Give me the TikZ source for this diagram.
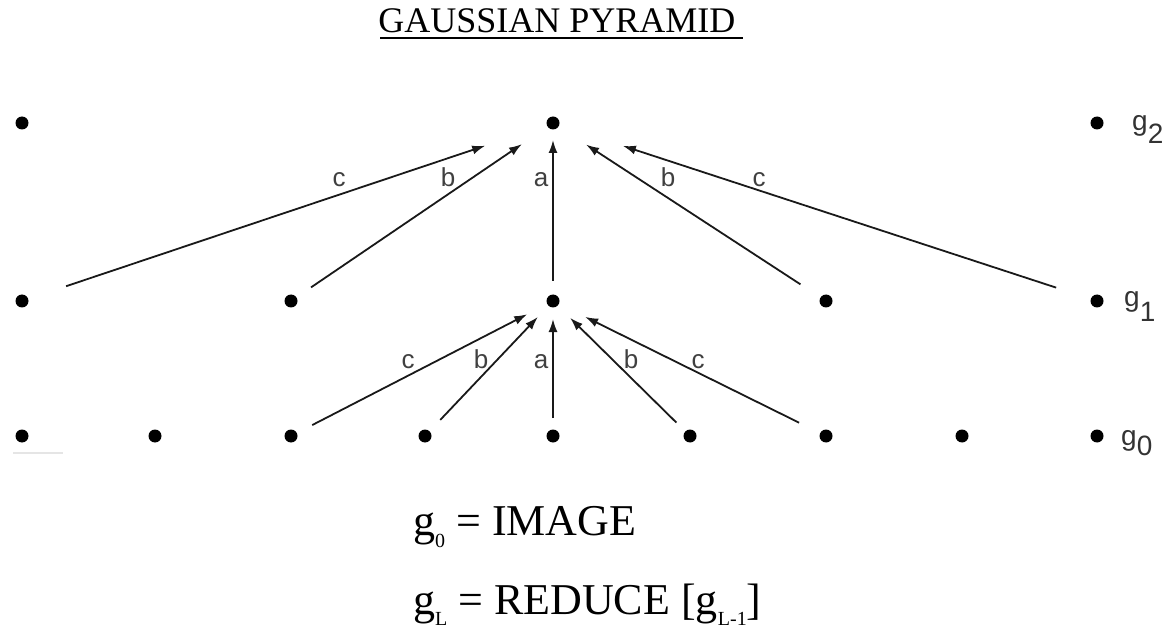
\documentclass[tikz,border=0pt]{standalone}
\usepackage{fontspec}
\setmainfont{Liberation Serif}
\newfontfamily\lblfont{Liberation Sans}
\usetikzlibrary{arrows.meta}
\newcommand\lowsub[2]{\raisebox{-#1}{#2}}
\begin{document}
\begin{tikzpicture}[x=1pt,y=-1pt,
  dot/.style={circle,fill=black,inner sep=0pt,outer sep=0pt,minimum size=13pt},
  arr/.style={draw=black!90,line width=1.8pt,-{Latex[length=13pt,width=9pt]}},
  lbl/.style={font=\lblfont\fontsize{26}{26}\selectfont,text=black!75,anchor=base,inner sep=0pt},
  lvl/.style={font=\lblfont\fontsize{28}{28}\selectfont,text=black!80,anchor=base west,inner sep=0pt},
  big/.style={font=\fontsize{44}{44}\selectfont,anchor=base west,inner sep=0pt},
  ttl/.style={font=\fontsize{36}{36}\selectfont,anchor=base,inner sep=0pt}]
\useasboundingbox (0,0) rectangle (1168,639);
% title
\node[ttl] (title) at (557,33) {GAUSSIAN PYRAMID};
\draw[line width=1.8pt] ([xshift=2pt,yshift=-5pt]title.base west) -- ([xshift=7pt,yshift=-5pt]title.base east);
% dots
\node[dot] (t1) at (22,123) {};
\node[dot] (t2) at (553,123) {};
\node[dot] (t3) at (1097,123) {};
\node[dot] (m1) at (22,301) {};
\node[dot] (m2) at (291,301) {};
\node[dot] (m3) at (553,301) {};
\node[dot] (m4) at (826,301) {};
\node[dot] (m5) at (1097,301) {};
\node[dot] (b1) at (22,436) {};
\node[dot] (b2) at (155,436) {};
\node[dot] (b3) at (291,436) {};
\node[dot] (b4) at (425,436) {};
\node[dot] (b5) at (553,436) {};
\node[dot] (b6) at (690,436) {};
\node[dot] (b7) at (826,436) {};
\node[dot] (b8) at (962,436) {};
\node[dot] (b9) at (1097,436) {};
\draw[black!10,line width=2pt] (13,453) -- (63,453);
% level labels
\node[lvl] (g2) at (1132,131) {g\lowsub{13pt}{2}};
\node[lvl] (g1) at (1124,306) {g\lowsub{15pt}{1}};
\node[lvl] (g0) at (1121,445) {g\lowsub{10pt}{0}};
% arrows to top
\draw[arr, shorten <=40pt, shorten >=65pt] (m1) -- (t2);
\draw[arr, shorten <=17.7pt, shorten >=31pt] (m2) -- (t2);
\draw[arr, shorten <=13.5pt, shorten >=10.5pt] (m3) -- (t2);
\draw[arr, shorten <=24pt, shorten >=33pt] (m4) -- (t2);
\draw[arr, shorten <=36.5pt, shorten >=67pt] (m5) -- (t2);
% arrows to middle
\draw[arr, shorten <=17.4pt, shorten >=22.5pt] (b3) -- (m3);
\draw[arr, shorten <=15.7pt, shorten >=15.5pt] (b4) -- (m3);
\draw[arr, shorten <=11.5pt, shorten >=11.5pt] (b5) -- (m3);
\draw[arr, shorten <=12.6pt, shorten >=17.5pt] (b6) -- (m3);
\draw[arr, shorten <=23.5pt, shorten >=29.3pt] (b7) -- (m3);
% weight labels
\node[lbl] (tc1) at (339,187) {c};
\node[lbl] (tb1) at (448,187) {b};
\node[lbl] (ta) at (541,187) {a};
\node[lbl] (tb2) at (668,187) {b};
\node[lbl] (tc2) at (759,187) {c};
\node[lbl] (mc1) at (408,368) {c};
\node[lbl] (mb1) at (481,368) {b};
\node[lbl] (ma) at (541,368) {a};
\node[lbl] (mb2) at (631,368) {b};
\node[lbl] (mc2) at (698,368) {c};
% equations
\node[big] (eq1) at (413,535) {g\lowsub{12pt}{\fontsize{20}{20}\selectfont 0} = IMAGE};
\node[big] (eq2) at (413,614) {g\lowsub{11pt}{\fontsize{20}{20}\selectfont L} = REDUCE [g\lowsub{11pt}{\fontsize{20}{20}\selectfont L-1}]};
\end{tikzpicture}
\end{document}
